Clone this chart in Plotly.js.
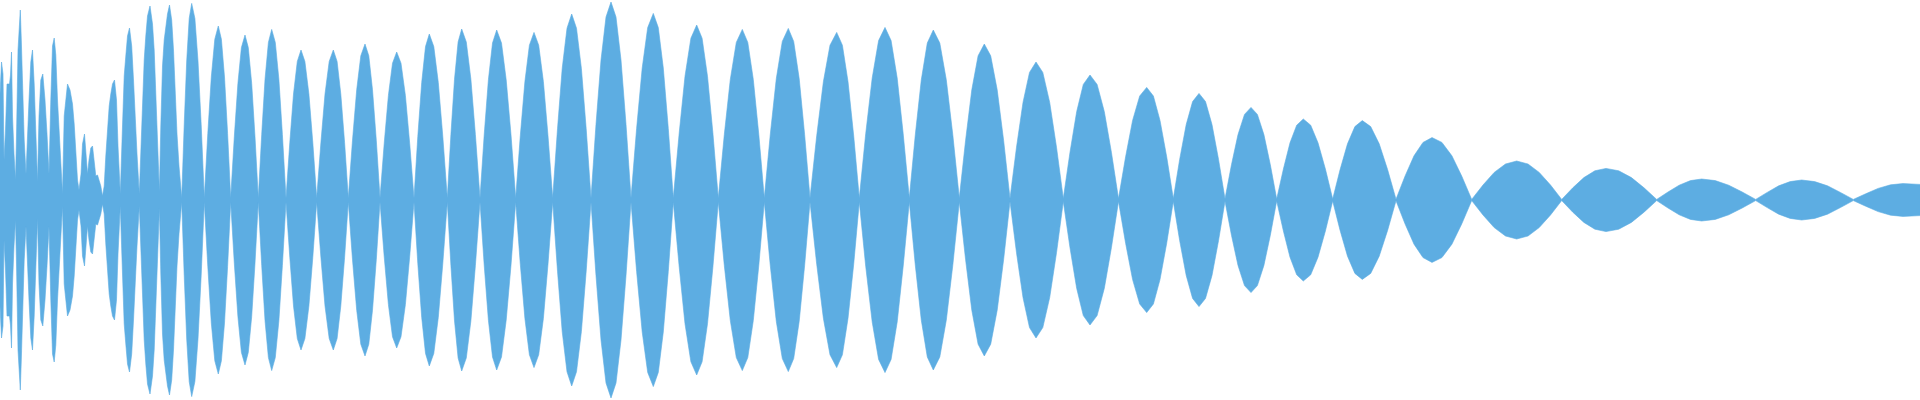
<!DOCTYPE html>
<html>
<head>
<meta charset="utf-8">
<script src="https://cdn.plot.ly/plotly-3.0.1.min.js"></script>
<style>html,body{margin:0;padding:0;background:#fff;}#chart{width:1920px;height:400px;}</style>
</head>
<body>
<div id="chart"></div>
<script>
// Sample positions (time, arbitrary units) of the waveform envelope
const time = [
  0, 1.5, 3, 4, 5.5, 7, 9.5, 10.5, 11.5, 12.5, 14, 15.5, 16.5, 18, 19.5, 20.3, 21.3, 22.7, 24.2, 26,
  27.5, 29, 30.8, 32.5, 34.2, 35.8, 37.5, 39, 40.8, 42.8, 45, 47, 49, 50.8, 52.5, 54.2, 55.8, 57.5, 59.2,
  60.8, 62.5, 64.2, 65.8, 67.5, 70, 72.5, 74.2, 75.8, 77.5, 79, 81, 82.5, 84.5, 86, 87.5, 89, 90.8, 92.5,
  94.2, 95.8, 97.5, 99.2, 100.8, 102.5, 104.2, 105.8, 107.5, 109.2, 110.8, 112.5, 114.5, 116.5, 118, 120.3,
  122.5, 124.2, 125.8, 127.5, 129.5, 131.7, 133.5, 135.2, 137, 139.3, 140.8, 142.5, 144.2, 145.8, 147.5, 150,
  152.5, 154.2, 155.8, 157.5, 159.4, 160.8, 162.5, 164.2, 165.8, 167.5, 169.5, 171.7, 173.5, 175.2, 177, 179,
  181.7, 184.2, 186.7, 189.2, 191.7, 194.9, 198.0, 201.2,
  204.3, 207.8, 211.3, 214.8, 218.3, 221.4, 224.5, 227.6,
  230.7, 234.3, 237.9, 241.4, 245, 248.3, 251.7, 255.0,
  258.3, 261.7, 265.0, 268.4, 271.7, 275.3, 278.9, 282.4,
  286, 289.8, 293.5, 297.3, 301, 304.9, 308.9, 312.8,
  316.7, 320.9, 325.0, 329.2, 333.3, 337.1, 340.8, 344.6,
  348.3, 352.5, 356.7, 360.8, 365, 368.8, 372.5, 376.3,
  380, 384.2, 388.4, 392.5, 396.7, 401.0, 405.4, 409.7,
  414, 417.8, 421.7, 425.5, 429.3, 433.8, 438.3, 442.8,
  447.3, 450.9, 454.5, 458.1, 461.7, 466.3, 470.9, 475.4,
  480, 484.2, 488.4, 492.5, 496.7, 501.5, 506.2, 511.0,
  515.7, 520.3, 524.9, 529.4, 534, 538.7, 543.4, 548.0,
  552.7, 557.5, 562.2, 567.0, 571.7, 576.5, 581.4, 586.2,
  591, 596, 601, 606, 611, 616, 621, 626,
  631, 636.6, 642.2, 647.7, 653.3, 658.3, 663.3, 668.3,
  673.3, 679.2, 685.0, 690.9, 696.7, 702.1, 707.5, 712.9,
  718.3, 724.3, 730.3, 736.3, 742.3, 747.8, 753.3, 758.8,
  764.3, 770.3, 776.3, 782.3, 788.3, 793.7, 799.2, 804.6,
  810, 816.7, 823.4, 830.0, 836.7, 842.4, 848.0, 853.7,
  859.3, 865.7, 872.2, 878.6, 885, 891.1, 897.2, 903.2,
  909.3, 915.3, 921.3, 927.3, 933.3, 939.8, 946.3, 952.8,
  959.3, 965.6, 971.8, 978.1, 984.3, 990.7, 997.2, 1003.6,
  1010, 1016.5, 1023, 1029.5, 1036, 1042.8, 1049.7, 1056.5,
  1063.3, 1070.0, 1076.7, 1083.3, 1090, 1097.1, 1104.3, 1111.4,
  1118.5, 1125.6, 1132.6, 1139.7, 1146.7, 1153.4, 1160.0, 1166.7,
  1173.3, 1179.7, 1186.2, 1192.6, 1199, 1205.5, 1212.0, 1218.5,
  1225, 1231.5, 1238, 1244.5, 1251, 1257.4, 1263.9, 1270.3,
  1276.7, 1283.4, 1290.0, 1296.7, 1303.3, 1310.7, 1318.0, 1325.4,
  1332.7, 1340.1, 1347.5, 1354.9, 1362.3, 1370.7, 1379.2, 1387.6,
  1396, 1405, 1414, 1423, 1432, 1441.9, 1451.9, 1461.8,
  1471.7, 1483.0, 1494.2, 1505.5, 1516.7, 1528.0, 1539.2, 1550.5,
  1561.7, 1572.8, 1583.9, 1594.9, 1606, 1618.7, 1631.4, 1644.0,
  1656.7, 1668.0, 1679.2, 1690.5, 1701.7, 1715.2, 1728.7, 1742.2,
  1755.7, 1767.2, 1778.7, 1790.2, 1801.7, 1814.6, 1827.5, 1840.4,
  1853.3, 1865.7, 1878.1, 1890.6, 1903, 1920
];

// Envelope amplitude (peak value, normalised to 1) at each sample
const amplitude = [
  0.53, 0.69, 0.63, 0.2, 0.35, 0.58, 0.58, 0.625, 0.74, 0.42, 0.23, 0.1, 0.32, 0.75, 0.88, 0.95, 0.8, 0.55, 0.3, 0.13,
  0.28, 0.5, 0.69, 0.75, 0.58, 0.28, 0.09, 0.42, 0.6, 0.63, 0.5, 0.33, 0.13, 0.5, 0.77, 0.81, 0.725, 0.5, 0.33,
  0.23, 0.03, 0.42, 0.52, 0.58, 0.55, 0.48, 0.38, 0.25, 0.1, 0.05, 0.13, 0.28, 0.33, 0.23, 0.13, 0.2, 0.26, 0.27,
  0.2, 0.12, 0.125, 0.1, 0.07, 0.02, 0.07, 0.22, 0.37, 0.47, 0.53, 0.58, 0.6, 0.5, 0.27, 0.03,
  0.37, 0.62, 0.72, 0.82, 0.86, 0.77, 0.6, 0.38, 0.23, 0.03, 0.27, 0.52, 0.7, 0.82, 0.92, 0.97,
  0.88, 0.75, 0.5, 0.25, 0.04, 0.37, 0.67, 0.8, 0.88, 0.93, 0.975, 0.9, 0.75, 0.53, 0.33, 0.17,
  0.01, 0.376, 0.695, 0.908, 0.983, 0.908, 0.695, 0.376,
  0.01, 0.333, 0.615, 0.804, 0.87, 0.804, 0.615, 0.333,
  0.01, 0.316, 0.583, 0.762, 0.825, 0.762, 0.583, 0.316,
  0.01, 0.327, 0.603, 0.788, 0.853, 0.788, 0.603, 0.327,
  0.01, 0.287, 0.530, 0.693, 0.75, 0.693, 0.530, 0.287,
  0.01, 0.287, 0.530, 0.693, 0.75, 0.693, 0.530, 0.287,
  0.01, 0.299, 0.551, 0.721, 0.78, 0.721, 0.551, 0.299,
  0.01, 0.283, 0.523, 0.684, 0.74, 0.684, 0.523, 0.283,
  0.01, 0.318, 0.587, 0.767, 0.83, 0.767, 0.587, 0.318,
  0.01, 0.327, 0.604, 0.790, 0.855, 0.790, 0.604, 0.327,
  0.01, 0.326, 0.601, 0.785, 0.85, 0.785, 0.601, 0.326,
  0.01, 0.321, 0.592, 0.774, 0.838, 0.774, 0.592, 0.321,
  0.01, 0.356, 0.658, 0.859, 0.93, 0.859, 0.658, 0.356,
  0.01, 0.379, 0.700, 0.915, 0.99, 0.915, 0.700, 0.379,
  0.01, 0.357, 0.660, 0.862, 0.933, 0.862, 0.660, 0.357,
  0.01, 0.335, 0.619, 0.809, 0.875, 0.809, 0.619, 0.335,
  0.01, 0.327, 0.603, 0.788, 0.853, 0.788, 0.603, 0.327,
  0.01, 0.329, 0.607, 0.793, 0.858, 0.793, 0.607, 0.329,
  0.01, 0.321, 0.592, 0.774, 0.838, 0.774, 0.592, 0.321,
  0.01, 0.331, 0.610, 0.797, 0.863, 0.797, 0.610, 0.331,
  0.01, 0.326, 0.601, 0.785, 0.85, 0.785, 0.601, 0.326,
  0.01, 0.299, 0.551, 0.721, 0.78, 0.721, 0.551, 0.299,
  0.008, 0.264, 0.488, 0.638, 0.69, 0.638, 0.488, 0.264,
  0.008, 0.239, 0.442, 0.578, 0.625, 0.578, 0.442, 0.239,
  0.007, 0.216, 0.398, 0.520, 0.563, 0.520, 0.398, 0.216,
  0.007, 0.204, 0.377, 0.492, 0.533, 0.492, 0.377, 0.204,
  0.006, 0.177, 0.327, 0.428, 0.463, 0.428, 0.327, 0.177,
  0.005, 0.155, 0.286, 0.374, 0.405, 0.374, 0.286, 0.155,
  0.005, 0.152, 0.281, 0.367, 0.397, 0.367, 0.281, 0.152,
  0.004, 0.119, 0.221, 0.288, 0.312, 0.288, 0.221, 0.119,
  0.003, 0.075, 0.138, 0.180, 0.195, 0.180, 0.138, 0.075,
  0.003, 0.061, 0.112, 0.146, 0.158, 0.146, 0.112, 0.061,
  0.003, 0.040, 0.074, 0.097, 0.105, 0.097, 0.074, 0.040,
  0.003, 0.038, 0.071, 0.092, 0.1, 0.092, 0.071, 0.038,
  0.003, 0.031, 0.058, 0.076, 0.082, 0.078
];

const waveColor = '#5DADE2';
const negAmplitude = amplitude.map(v => -v);

const traces = [
  {
    x: time, y: amplitude, type: 'scatter', mode: 'lines',
    line: {color: waveColor, width: 0.6}, fill: 'tozeroy', fillcolor: waveColor,
    hoverinfo: 'skip'
  },
  {
    x: time, y: negAmplitude, type: 'scatter', mode: 'lines',
    line: {color: waveColor, width: 0.6}, fill: 'tozeroy', fillcolor: waveColor,
    hoverinfo: 'skip'
  }
];

const layout = {
  width: 1920, height: 400,
  margin: {l: 0, r: 0, t: 0, b: 0, pad: 0},
  paper_bgcolor: '#ffffff', plot_bgcolor: '#ffffff',
  showlegend: false,
  xaxis: {range: [0, 1920], visible: false, fixedrange: true},
  yaxis: {range: [-1, 1], visible: false, fixedrange: true}
};

Plotly.newPlot('chart', traces, layout, {staticPlot: true, displayModeBar: false});
</script>
</body>
</html>
